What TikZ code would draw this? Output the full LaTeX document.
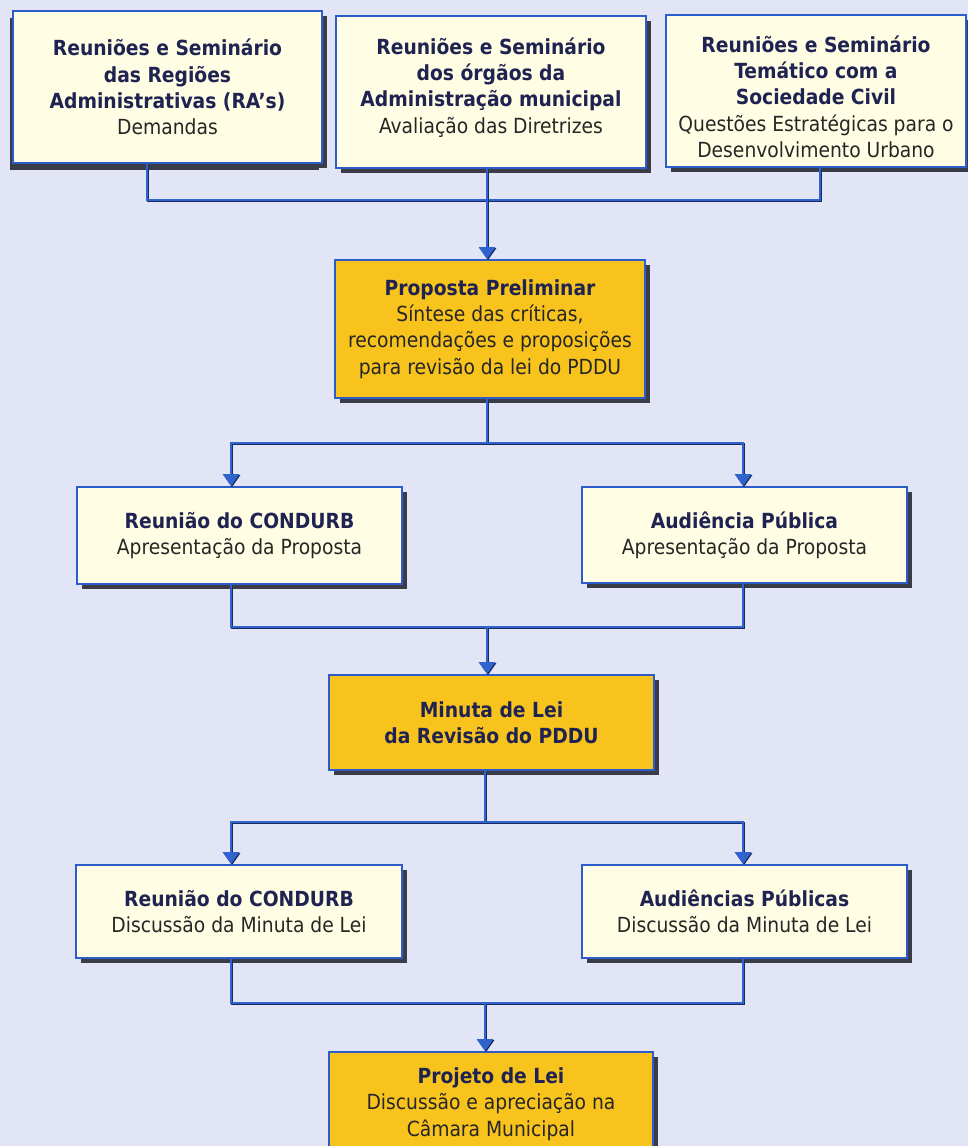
\documentclass[tikz,border=0pt]{standalone}
\usepackage{fontspec}
\setmainfont{DejaVu Sans Condensed}
\usetikzlibrary{arrows.meta,shadows}
\definecolor{bgcol}{HTML}{E2E5F5}
\definecolor{creamcol}{HTML}{FFFDE4}
\definecolor{yelcol}{HTML}{F8C31D}
\definecolor{bordcol}{HTML}{2C5DCB}
\definecolor{titlecol}{HTML}{1F2352}
\definecolor{txtcol}{HTML}{262626}
\definecolor{shadcol}{HTML}{3A3D48}
\definecolor{linecol}{HTML}{2F64CF}
\definecolor{linedark}{HTML}{1B2A5E}
\newcommand\hdline[1]{{\bfseries\color{titlecol}#1}}
\tikzset{
  boxbase/.style={draw=bordcol, line width=1.8pt, align=center, inner sep=2pt,
    text=txtcol, font=\fontsize{20.8}{26.3}\selectfont},
  creambox/.style={boxbase, fill=creamcol,
    general shadow={fill=shadcol, shadow xshift=4.5pt, shadow yshift=-5pt}},
  yelbox/.style={boxbase, fill=yelcol,
    general shadow={fill=shadcol, shadow xshift=4.5pt, shadow yshift=-5pt}},
  leftshadow/.style={general shadow={fill=shadcol, shadow xshift=-3pt, shadow yshift=-7pt}},
  conn/.style={draw=linecol, line width=2.8pt, line join=miter,
    preaction={draw=linedark, line width=2.8pt, transform canvas={shift={(1pt,-1pt)}}}},
  connarrow/.style={conn, -{Triangle[width=16pt,length=12pt,fill=linecol]}}
}
\begin{document}
\begin{tikzpicture}[x=1pt,y=-1pt]
\useasboundingbox (0,0) rectangle (968,1146);
\fill[bgcol] (0,0) rectangle (968,1146);
\clip (0,0) rectangle (968,1146);

% top row
\node[creambox, leftshadow, minimum width=309pt, minimum height=152pt] (b1) at (167.5,87)
  {\hdline{Reuniões e Seminário}\\\hdline{das Regiões}\\\hdline{Administrativas (RA’s)}\\Demandas};
\node[creambox, minimum width=310pt, minimum height=152pt] (b2) at (491,92)
  {\hdline{Reuniões e Seminário}\\\hdline{dos órgãos da}\\\hdline{Administração municipal}\\Avaliação das Diretrizes\rule[-13pt]{0pt}{0pt}};
\node[creambox, minimum width=300pt, minimum height=152pt] (b3) at (816,91)
  {\rule{0pt}{28pt}\hdline{Reuniões e Seminário}\\\hdline{Temático com a}\\\hdline{Sociedade Civil}\\Questões Estratégicas para o\\Desenvolvimento Urbano};

% proposta
\node[yelbox, minimum width=310pt, minimum height=138pt] (prop) at (490,329)
  {\hdline{Proposta Preliminar}\\Síntese das críticas,\\recomendações e proposições\\para revisão da lei do PDDU};

% second row
\node[creambox, minimum width=325pt, minimum height=97pt] (c1) at (239.5,535.5)
  {\hdline{Reunião do CONDURB}\\Apresentação da Proposta};
\node[creambox, minimum width=325pt, minimum height=96pt] (a1) at (744.5,535)
  {\hdline{Audiência Pública}\\Apresentação da Proposta};

% minuta
\node[yelbox, minimum width=325pt, minimum height=95pt] (min) at (491.5,722.5)
  {\hdline{Minuta de Lei}\\\hdline{da Revisão do PDDU}};

% third row
\node[creambox, minimum width=326pt, minimum height=93pt] (c2) at (239,911.5)
  {\hdline{Reunião do CONDURB}\\Discussão da Minuta de Lei};
\node[creambox, minimum width=325pt, minimum height=93pt] (a2) at (744.5,911.5)
  {\hdline{Audiências Públicas}\\Discussão da Minuta de Lei};

% projeto
\node[yelbox, minimum width=324pt, minimum height=104pt] (proj) at (491,1104)
  {\hdline{Projeto de Lei}\\Discussão e apreciação na\\Câmara Municipal};

% bus coordinates
\coordinate (j1) at (487,200);
\coordinate (j2) at (487,443);
\coordinate (j3) at (487,627);
\coordinate (j4) at (485,822);
\coordinate (j5) at (485,1003);

% connectors
\draw[conn] ([xshift=-20.5pt]b1.south) |- (j1) -| ([xshift=4pt]b3.south);
\draw[connarrow] ([xshift=-4pt]b2.south) -- ([xshift=-3pt]prop.north);

\draw[conn] ([xshift=-3pt]prop.south) -- (j2);
\draw[connarrow] (j2) -| ([xshift=-8.5pt]c1.north);
\draw[connarrow] (j2) -| ([xshift=-1.5pt]a1.north);

\draw[conn] ([xshift=-8.5pt]c1.south) |- (j3) -| ([xshift=-1.5pt]a1.south);
\draw[connarrow] (j3) -- ([xshift=-4.5pt]min.north);

\draw[conn] ([xshift=-6.5pt]min.south) -- (j4);
\draw[connarrow] (j4) -| ([xshift=-8pt]c2.north);
\draw[connarrow] (j4) -| ([xshift=-1.5pt]a2.north);

\draw[conn] ([xshift=-8pt]c2.south) |- (j5) -| ([xshift=-1.5pt]a2.south);
\draw[connarrow] (j5) -- ([xshift=-6pt]proj.north);
\end{tikzpicture}
\end{document}
